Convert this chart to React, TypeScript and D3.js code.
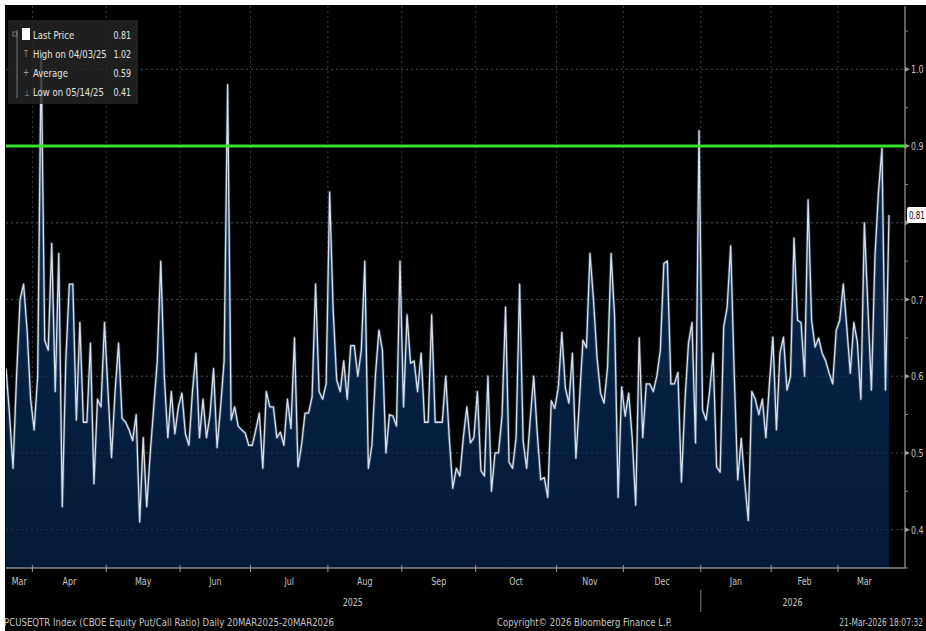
import React from 'react';
import * as d3 from 'd3';

// ---- data ----
const monthLabels = ['Mar', 'Apr', 'May', 'Jun', 'Jul', 'Aug', 'Sep', 'Oct', 'Nov', 'Dec', 'Jan', 'Feb', 'Mar'];
const monthTradingDays = [8, 21, 21, 20, 22, 21, 21, 23, 19, 22, 20, 19, 15];
const yearLabels = [
  { label: '2025', monthIndex: 5 },
  { label: '2026', monthIndex: 11 },
];

const values: number[] = [
  // Mar 2025
  0.61, 0.55, 0.48, 0.6, 0.7, 0.72, 0.66, 0.57,
  // Apr
  0.53, 0.6, 1.02, 0.647, 0.634, 0.773, 0.58, 0.76, 0.43, 0.62, 0.72, 0.72, 0.543,
  0.67, 0.54, 0.54, 0.643, 0.46, 0.57, 0.56, 0.67,
  // May
  0.58, 0.494, 0.58, 0.643, 0.545, 0.54, 0.53, 0.516, 0.55, 0.41, 0.52, 0.43, 0.5,
  0.56, 0.62, 0.75, 0.6, 0.52, 0.58, 0.525, 0.56,
  // Jun
  0.578, 0.525, 0.51, 0.58, 0.63, 0.52, 0.57, 0.52, 0.55, 0.61, 0.507, 0.56, 0.62,
  0.98, 0.543, 0.56, 0.535, 0.53, 0.526, 0.51,
  // Jul
  0.51, 0.53, 0.552, 0.48, 0.58, 0.56, 0.56, 0.52, 0.527, 0.51, 0.57, 0.532, 0.65,
  0.482, 0.51, 0.552, 0.552, 0.573, 0.72, 0.58, 0.57, 0.59,
  // Aug
  0.84, 0.686, 0.595, 0.58, 0.62, 0.57, 0.64, 0.64, 0.6, 0.634, 0.75, 0.48, 0.51,
  0.6, 0.66, 0.634, 0.5, 0.55, 0.548, 0.535, 0.75,
  // Sep
  0.56, 0.68, 0.617, 0.62, 0.58, 0.63, 0.54, 0.54, 0.68, 0.54, 0.54, 0.54, 0.6,
  0.52, 0.454, 0.48, 0.47, 0.52, 0.56, 0.513, 0.52,
  // Oct
  0.58, 0.477, 0.47, 0.6, 0.45, 0.5, 0.5, 0.548, 0.69, 0.488, 0.48, 0.52, 0.72,
  0.516, 0.48, 0.543, 0.6, 0.527, 0.465, 0.468, 0.442, 0.568, 0.558,
  // Nov
  0.585, 0.657, 0.585, 0.565, 0.63, 0.493, 0.568, 0.647, 0.637, 0.76, 0.7, 0.625,
  0.578, 0.565, 0.612, 0.76, 0.677, 0.442, 0.586,
  // Dec
  0.548, 0.578, 0.52, 0.432, 0.65, 0.52, 0.59, 0.59, 0.58, 0.6, 0.634, 0.747, 0.75,
  0.59, 0.59, 0.605, 0.462, 0.568, 0.643, 0.67, 0.513, 0.92,
  // Jan 2026
  0.556, 0.543, 0.58, 0.63, 0.482, 0.475, 0.664, 0.69, 0.77, 0.604, 0.465, 0.519,
  0.462, 0.412, 0.58, 0.57, 0.55, 0.57, 0.52, 0.59,
  // Feb
  0.651, 0.53, 0.63, 0.651, 0.582, 0.6, 0.78, 0.673, 0.67, 0.6, 0.83, 0.673, 0.638,
  0.65, 0.63, 0.62, 0.604, 0.59, 0.66,
  // Mar
  0.673, 0.72, 0.664, 0.604, 0.67, 0.645, 0.57, 0.8, 0.69, 0.582, 0.755, 0.84,
  0.897, 0.582, 0.81,
];

const yTicks = [0.4, 0.5, 0.6, 0.7, 0.8, 0.9, 1.0];
const yMinorTicks = [0.35, 0.45, 0.55, 0.65, 0.75, 0.85, 0.95, 1.05];
const thresholdValue = 0.9;
const lastPrice = 0.81;

const legendLabels = ['Last Price', 'High on 04/03/25', 'Average', 'Low on 05/14/25'];
const legendValues = ['0.81', '1.02', '0.59', '0.41'];

const footerLeft = 'PCUSEQTR Index (CBOE Equity Put/Call Ratio) Daily 20MAR2025-20MAR2026';
const footerMid = 'Copyright\u00A9 2026 Bloomberg Finance L.P.';
const footerRight = '21-Mar-2026 18:07:32';

// ---- layout ----
const W = 926;
const H = 631;
const plotLeft = 6;
const plotTop = 6;
const axisX = 905;
const plotBottom = 568;
const FONT = '"Liberation Sans Narrow", "DejaVu Sans Condensed", "Arial Narrow", sans-serif';
const TXT = '#c4c4c4';

function NText(props: {
  x: number;
  y: number;
  children: React.ReactNode;
  anchor?: 'start' | 'middle' | 'end';
  size?: number;
  fill?: string;
  sx?: number;
}) {
  const { x, y, children, anchor = 'start', size = 11, fill = TXT, sx = 0.8 } = props;
  return (
    <text
      transform={`translate(${x},${y}) scale(${sx},1)`}
      textAnchor={anchor}
      fontSize={size}
      fill={fill}
    >
      {children}
    </text>
  );
}

export default function App() {
  const n = values.length;
  const x = d3.scaleLinear().domain([0, n - 1]).range([6, 889]);
  const y = d3.scaleLinear().domain([0.35, 1.08]).range([plotBottom, 8]);

  const monthStarts: number[] = [];
  let acc = 0;
  monthTradingDays.forEach((d) => {
    monthStarts.push(acc);
    acc += d;
  });
  const boundaries = monthStarts.slice(1).map((s) => x(s - 0.5));
  const monthCenters = monthStarts.map((s, i) => {
    const a = Math.max(plotLeft, x(s - 0.5));
    const b = x(s + monthTradingDays[i] - 0.5);
    return (a + b) / 2;
  });

  const area = d3
    .area<number>()
    .x((_, i) => x(i))
    .y0(plotBottom)
    .y1((d) => y(d));
  const line = d3
    .line<number>()
    .x((_, i) => x(i))
    .y((d) => y(d));

  const legendY = [35, 54, 73, 92];
  const lastY = y(lastPrice);

  return (
    <svg
      width={W}
      height={H}
      style={{ position: 'absolute', left: 0, top: 0, display: 'block' }}
      fontFamily={FONT}
    >
      <defs>
        <linearGradient id="fillGrad" x1="0" y1="0" x2="0" y2="1">
          <stop offset="0%" stopColor="#0a2a50" />
          <stop offset="100%" stopColor="#041a36" />
        </linearGradient>
        <clipPath id="plotClip">
          <rect x={plotLeft} y={plotTop} width={axisX - plotLeft} height={plotBottom - plotTop} />
        </clipPath>
      </defs>
      <rect x={0} y={0} width={W} height={H} fill="#ffffff" />
      <rect x={5} y={5} width={W - 5} height={H - 5} fill="#000000" />

      {/* grid */}
      {yTicks.map((t) => (
        <line
          key={'hg' + t}
          x1={plotLeft}
          x2={axisX}
          y1={y(t)}
          y2={y(t)}
          stroke="#4a4a4a"
          strokeWidth={1}
          strokeDasharray="2,3"
        />
      ))}
      {boundaries.map((bx, i) => (
        <line
          key={'vg' + i}
          x1={bx}
          x2={bx}
          y1={plotTop}
          y2={plotBottom}
          stroke="#3c3c3c"
          strokeWidth={1}
          strokeDasharray="2,3"
        />
      ))}

      {/* area + line */}
      <g clipPath="url(#plotClip)">
        <path d={area(values) || ''} fill="url(#fillGrad)" />
        {yTicks.map((t) => (
          <line
            key={'hg2' + t}
            x1={plotLeft}
            x2={x(n - 1)}
            y1={y(t)}
            y2={y(t)}
            stroke="#2c4668"
            strokeWidth={1}
            strokeDasharray="2,3"
            opacity={0.6}
          />
        ))}
        <path d={line(values) || ''} fill="none" stroke="#7e9cc0" strokeWidth={3} opacity={0.35} strokeLinejoin="round" />
        <path d={line(values) || ''} fill="none" stroke="#d7e0ea" strokeWidth={1.3} strokeLinejoin="round" />
      </g>

      {/* threshold line */}
      <line
        x1={plotLeft}
        x2={axisX}
        y1={y(thresholdValue)}
        y2={y(thresholdValue)}
        stroke="#36e02c"
        strokeWidth={3}
      />

      {/* legend */}
      <rect x={8} y={20} width={130} height={84} fill="#262626" opacity={0.82} />
      <line x1={17} x2={17} y1={30} y2={98} stroke="#777" strokeWidth={1} />
      <rect x={22} y={28} width={8} height={12} fill="#ffffff" />
      <rect x={13} y={32} width={4} height={4} fill="none" stroke="#888" strokeWidth={0.8} />
      <NText x={24} y={57} size={9} fill="#999">T</NText>
      <NText x={23} y={76} size={10} fill="#999">+</NText>
      <NText x={24} y={96} size={9} fill="#999">⊥</NText>
      {legendLabels.map((l, i) => (
        <g key={'lg' + i}>
          <NText x={33} y={legendY[i] + 4} fill="#e2e2e2" sx={0.86}>
            {l}
          </NText>
          <NText x={131} y={legendY[i] + 4} fill="#e2e2e2" sx={0.8} anchor="end">
            {legendValues[i]}
          </NText>
        </g>
      ))}

      {/* right axis */}
      <line x1={axisX} x2={axisX} y1={plotTop} y2={plotBottom} stroke="#9a9a9a" strokeWidth={1.2} />
      {yMinorTicks.map((t) => (
        <line key={'mt' + t} x1={axisX} x2={axisX + 3} y1={y(t)} y2={y(t)} stroke="#8a8a8a" />
      ))}
      {yTicks.map((t) => (
        <g key={'yt' + t}>
          <path
            d={`M${axisX},${y(t) - 2.5} L${axisX + 5},${y(t)} L${axisX},${y(t) + 2.5} Z`}
            fill="#9a9a9a"
          />
          {Math.abs(y(t) - lastY) > 12 && (
            <NText x={axisX + 6} y={y(t) + 4}>{t.toFixed(1)}</NText>
          )}
        </g>
      ))}
      <rect x={axisX + 2} y={lastY - 8} width={24} height={16} rx={2} fill="#ffffff" />
      <NText x={axisX + 4} y={lastY + 4} fill="#000" sx={0.72}>
        {lastPrice.toFixed(2)}
      </NText>

      {/* bottom axis */}
      <line x1={plotLeft} x2={axisX} y1={plotBottom} y2={plotBottom} stroke="#8a8a8a" strokeWidth={1.5} />
      {boundaries.map((bx, i) => (
        <line key={'xt' + i} x1={bx} x2={bx} y1={plotBottom - 3} y2={plotBottom + 4} stroke="#9a9a9a" />
      ))}
      {monthLabels.map((m, i) => (
        <NText key={'ml' + i} x={monthCenters[i]} y={585} anchor="middle">
          {m}
        </NText>
      ))}
      {yearLabels.map((yl) => (
        <NText key={yl.label} x={monthCenters[yl.monthIndex] - 12} y={606} anchor="middle">
          {yl.label}
        </NText>
      ))}
      <line x1={boundaries[9]} x2={boundaries[9]} y1={590} y2={612} stroke="#777" />

      {/* footer */}
      <text x={4} y={626} fill={TXT} fontSize={11} textLength={330} lengthAdjust="spacingAndGlyphs">
        {footerLeft}
      </text>
      <text x={497} y={626} fill={TXT} fontSize={11} textLength={175} lengthAdjust="spacingAndGlyphs">
        {footerMid}
      </text>
      <NText x={923} y={626} anchor="end" sx={0.76}>
        {footerRight}
      </NText>
    </svg>
  );
}
